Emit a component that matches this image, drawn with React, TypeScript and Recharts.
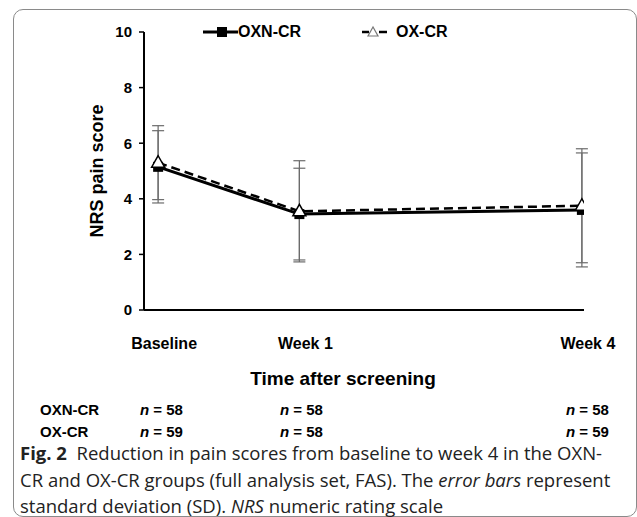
import React from 'react';
import { LineChart, Line, XAxis, YAxis, ErrorBar, Label } from 'recharts';

// time points (axis position) and labels
const TIME_POS = [0, 1, 3];
const TIME_LABELS = ['Baseline', 'Week 1', 'Week 4'];

// mean NRS pain score and SD per group
const OXN_MEAN = [5.15, 3.45, 3.6];
const OXN_SD = [1.3, 1.65, 2.05];
const OX_MEAN = [5.3, 3.55, 3.75];
const OX_SD = [1.33, 1.82, 2.05];

// group sizes shown under the axis
const OXN_N = [58, 58, 58];
const OX_N = [59, 58, 59];

const Y_TICKS = [0, 2, 4, 6, 8, 10];

const data = TIME_POS.map((t, i) => ({
  t,
  oxn: OXN_MEAN[i],
  oxnSd: OXN_SD[i],
  ox: OX_MEAN[i],
  oxSd: OX_SD[i],
}));

const ARIAL = '"Liberation Sans", Arial, sans-serif';

const SquareDot = (props: any) => {
  const { cx, cy, index } = props;
  return <rect key={'sq' + index} x={cx - 5} y={cy - 5} width={10} height={10} fill="#000" />;
};

const TriangleDot = (props: any) => {
  const { cx, cy, index } = props;
  const pts = `${cx},${cy - 7} ${cx - 6.5},${cy + 4.5} ${cx + 6.5},${cy + 4.5}`;
  return <polygon key={'tr' + index} points={pts} fill="#fff" stroke="#000" strokeWidth={1.5} />;
};

const XTick = (props: any) => {
  const { x, y, payload } = props;
  const idx = TIME_POS.indexOf(payload.value);
  return (
    <text x={x + 6} y={y} dy={37} textAnchor="middle" fontFamily={ARIAL} fontWeight="bold" fontSize={16} fill="#000">
      {TIME_LABELS[idx]}
    </text>
  );
};

const nCols = [140, 280, 566];

const NRow = ({ label, values, top }: { label: string; values: number[]; top: number }) => (
  <div style={{ position: 'absolute', top, left: 0, width: 637, height: 20, fontFamily: ARIAL, fontWeight: 'bold', fontSize: 15, lineHeight: '20px' }}>
    <span style={{ position: 'absolute', left: 40 }}>{label}</span>
    {values.map((v, i) => (
      <span key={i} style={{ position: 'absolute', left: nCols[i] }}>
        <i>n</i> = {v}
      </span>
    ))}
  </div>
);

export default function App() {
  return (
    <div style={{ position: 'absolute', left: 0, top: 0, width: 637, height: 517, background: '#fff', overflow: 'hidden' }}>
      <div style={{ position: 'absolute', left: 13, top: 9, width: 622, height: 506, border: '1px solid #8a8a8a', borderRadius: 10 }} />

      <div style={{ position: 'absolute', left: 0, top: 0 }}>
        <LineChart width={637} height={395} data={data} margin={{ top: 32, right: 53, left: 0, bottom: 0 }}>
          <XAxis
            dataKey="t"
            type="number"
            domain={[-0.1, 3.015]}
            ticks={TIME_POS}
            allowDataOverflow
            tickLine={false}
            tickSize={0}
            axisLine={{ stroke: '#000', strokeWidth: 2 }}
            tick={<XTick />}
            height={85}
            label={
              <Label
                content={() => (
                  <text x={343} y={385} textAnchor="middle" fontFamily={ARIAL} fontWeight="bold" fontSize={19} fill="#000">
                    Time after screening
                  </text>
                )}
              />
            }
          />
          <YAxis
            domain={[0, 10]}
            ticks={Y_TICKS}
            width={144}
            tickSize={5}
            tickMargin={7}
            tickLine={{ stroke: '#000', strokeWidth: 1.5 }}
            axisLine={{ stroke: '#000', strokeWidth: 2 }}
            tick={{ fill: '#000', fontSize: 15, fontWeight: 'bold', fontFamily: ARIAL }}
            label={
              <Label
                content={() => (
                  <text
                    x={103}
                    y={171}
                    transform="rotate(-90 103 171)"
                    textAnchor="middle"
                    fontFamily={ARIAL}
                    fontWeight="bold"
                    fontSize={18}
                    fill="#000"
                  >
                    NRS pain score
                  </text>
                )}
              />
            }
          />
          <Line
            dataKey="oxn"
            stroke="#000"
            strokeWidth={3}
            dot={<SquareDot />}
            activeDot={false}
            isAnimationActive={false}
          >
            <ErrorBar dataKey="oxnSd" direction="y" width={6} stroke="#6b6b6b" strokeWidth={1.2} />
          </Line>
          <Line
            dataKey="ox"
            stroke="#000"
            strokeWidth={2.5}
            strokeDasharray="9 5"
            dot={<TriangleDot />}
            activeDot={false}
            isAnimationActive={false}
          >
            <ErrorBar dataKey="oxSd" direction="y" width={6} stroke="#6b6b6b" strokeWidth={1.2} />
          </Line>
        </LineChart>
      </div>

      {/* legend */}
      <div style={{ position: 'absolute', left: 203, top: 22, height: 20, fontFamily: ARIAL, fontWeight: 'bold', fontSize: 16, lineHeight: '20px', whiteSpace: 'nowrap' }}>
        <svg width={35} height={20} style={{ position: 'absolute', left: 0, top: 0 }}>
          <line x1={0} y1={10} x2={35} y2={10} stroke="#000" strokeWidth={3} />
          <rect x={14} y={5} width={10} height={10} fill="#000" />
        </svg>
        <span style={{ position: 'absolute', left: 35 }}>OXN-CR</span>
        <svg width={30} height={20} style={{ position: 'absolute', left: 158, top: 0 }}>
          <line x1={1} y1={10} x2={8} y2={10} stroke="#000" strokeWidth={2.5} />
          <line x1={18} y1={10} x2={26} y2={10} stroke="#000" strokeWidth={2.5} />
          <polygon points="12,5 7,14 17,14" fill="#fff" stroke="#777" strokeWidth={1.2} />
        </svg>
        <span style={{ position: 'absolute', left: 193 }}>OX-CR</span>
      </div>

      <NRow label="OXN-CR" values={OXN_N} top={400} />
      <NRow label="OX-CR" values={OX_N} top={422} />

      <div style={{ position: 'absolute', left: 20, top: 440, width: 610, fontFamily: '"Open Sans", sans-serif', fontSize: 18.5, lineHeight: '26.5px', color: '#222', letterSpacing: 0, whiteSpace: 'nowrap' }}>
        <div>
          <b>Fig. 2</b>&nbsp; Reduction in pain scores from baseline to week 4 in the OXN-
        </div>
        <div>
          CR and OX-CR groups (full analysis set, FAS). The <i>error bars</i> represent
        </div>
        <div>
          standard deviation (SD). <i>NRS</i> numeric rating scale
        </div>
      </div>
    </div>
  );
}
